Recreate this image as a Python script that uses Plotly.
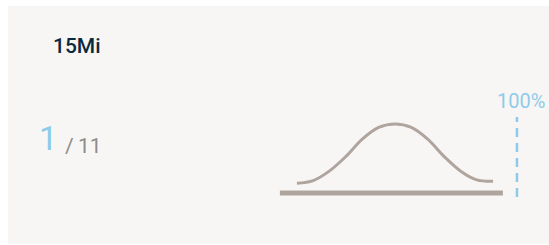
import plotly.graph_objects as go

# ---- data ----
curve_x = [-3.0, -2.5, -2.0, -1.5, -1.0, -0.5, 0.0, 0.5, 1.0, 1.5, 2.0, 2.5, 3.0]
curve_y = [0.14, 0.18, 0.32, 0.53, 0.78, 0.95, 1.00, 0.95, 0.78, 0.53, 0.32, 0.19, 0.17]
base_x = [-3.52, 3.30]
base_y = [0.0, 0.0]
marker_x = [3.73, 3.73]
marker_y = [-0.06, 1.10]
marker_label = "100%"
title_text = "15Mi"
rank_value = "1"
rank_total = "11"

W, H = 549, 245
FONT = "Roboto"
fig = go.Figure()

fig.add_trace(go.Scatter(x=base_x, y=base_y, mode="lines",
                         line=dict(color="#b0a59e", width=5), hoverinfo="skip"))
fig.add_trace(go.Scatter(x=curve_x, y=curve_y, mode="lines",
                         line=dict(color="#b0a59e", width=3, shape="spline", smoothing=1.0),
                         hoverinfo="skip"))
fig.add_trace(go.Scatter(x=marker_x, y=marker_y, mode="lines",
                         line=dict(color="#8ecbea", width=2.5, dash="9px,6px"), hoverinfo="skip"))
fig.add_annotation(x=marker_x[1], y=marker_y[1], xref="x", yref="y",
                   xanchor="center", yanchor="bottom", xshift=4.5, yshift=2,
                   showarrow=False, text=marker_label,
                   font=dict(family=FONT, size=20, color="#8ecbea"))

fig.add_shape(type="rect", xref="paper", yref="paper",
              x0=8 / W, x1=1.0, y0=1 - 244 / H, y1=1 - 6 / H,
              fillcolor="#f8f6f4", line=dict(width=0), layer="below")

fig.add_annotation(xref="paper", yref="paper", x=51 / W, y=1 - 45.5 / H,
                   xanchor="left", yanchor="middle", showarrow=False,
                   text=title_text,
                   font=dict(family=FONT, size=21, color="#0b2a3f", weight=500))
fig.add_annotation(xref="paper", yref="paper", x=37 / W, y=1 - 138 / H,
                   xanchor="left", yanchor="middle", showarrow=False,
                   text=rank_value,
                   font=dict(family=FONT, size=33, color="#8ecbea"))
fig.add_annotation(xref="paper", yref="paper", x=63 / W, y=1 - 145.5 / H,
                   xanchor="left", yanchor="middle", showarrow=False,
                   text=f"/\u2009{rank_total}",
                   font=dict(family=FONT, size=21, color="#8c8c8c"))

fig.update_layout(
    width=W, height=H,
    margin=dict(l=0, r=0, t=0, b=0),
    paper_bgcolor="#ffffff", plot_bgcolor="rgba(0,0,0,0)",
    showlegend=False,
    xaxis=dict(range=[-12.08, 4.71], visible=False, fixedrange=True),
    yaxis=dict(range=[-0.754, 2.797], visible=False, fixedrange=True),
)

fig.write_html("out.html", config={"displayModeBar": False},
               post_script="document.body.style.margin='0';document.body.style.overflow='hidden';")
